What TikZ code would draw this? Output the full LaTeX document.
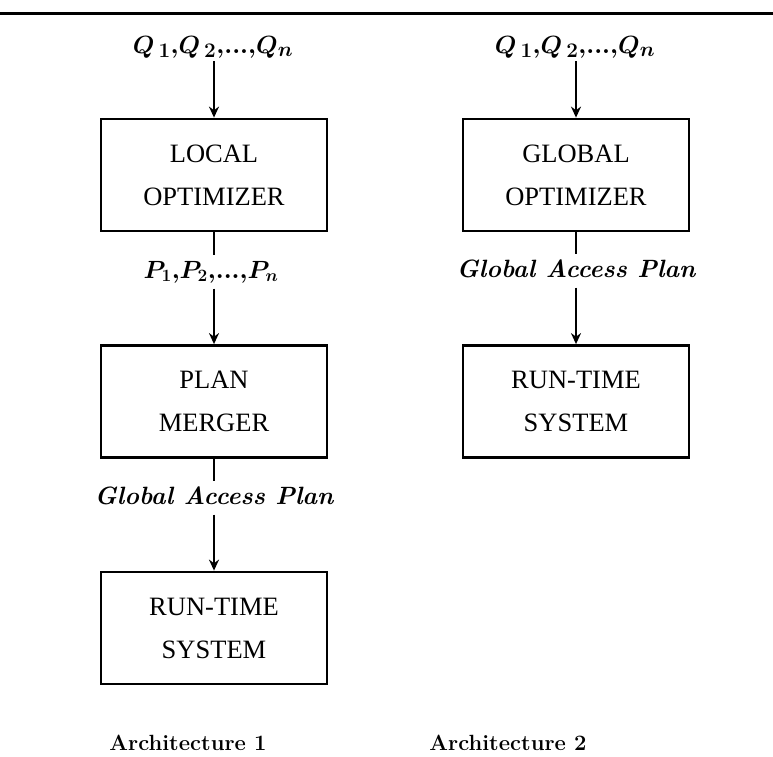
\documentclass[tikz,border=0pt]{standalone}
\usepackage{fontspec}
\newfontfamily\boxfont{Liberation Serif}
\usetikzlibrary{arrows.meta}
\begin{document}
\begin{tikzpicture}[x=1pt,y=-1pt,
  procbox/.style={draw, line width=2.8pt, minimum width=226pt, minimum height=112pt,
    align=center, font=\boxfont\fontsize{26.5}{43}\selectfont},
  flowlabel/.style={inner xsep=2pt, inner ysep=4.5pt, text height=18pt, text depth=6pt},
  qlabel/.style={inner xsep=2pt, inner ysep=2pt, text height=18pt, text depth=6pt, font=\boldmath\fontsize{28}{32}\selectfont},
  plainline/.style={line width=2pt},
  flowarrow/.style={line width=2pt, -{Stealth[length=11pt,width=10pt]}},
  caption/.style={font=\bfseries\fontsize{22}{26}\selectfont},
  gap/.style={font=\bfseries\itshape\fontsize{25}{30}\selectfont}
]
\useasboundingbox (0,0) rectangle (773,756);
\draw[line width=3pt] (0,13) -- (773,13);

% Architecture 1
\node[qlabel] (q1) at (213,47) {$Q_{\,1}{,}Q_{\,2}{,}{\ldotp}{\ldotp}{\ldotp}{,}Q_n$};
\node[procbox] (lo) at (214,175) {LOCAL\\OPTIMIZER};
\node[flowlabel, font=\boldmath\fontsize{27}{30}\selectfont] (pl) at (211,272) {$P_1{,}P_2{,}{\ldotp}{\ldotp}{\ldotp}{,}P_n$};
\node[procbox] (pm) at (214,401.5) {PLAN\\MERGER};
\node[flowlabel, gap] (gap1) at (214,498) {Global Access Plan};
\node[procbox] (rt1) at (214,628) {RUN-TIME\\SYSTEM};
\node[caption] (c1) at (188,743) {Architecture 1};

\draw[flowarrow] (lo.north |- q1.south) -- (lo.north);
\draw[plainline] (lo.south) -- (lo.south |- pl.north);
\draw[flowarrow] (pm.north |- pl.south) -- (pm.north);
\draw[plainline] (pm.south) -- (pm.south |- gap1.north);
\draw[flowarrow] (rt1.north |- gap1.south) -- (rt1.north);

% Architecture 2
\node[qlabel] (q2) at (575,47) {$Q_{\,1}{,}Q_{\,2}{,}{\ldotp}{\ldotp}{\ldotp}{,}Q_n$};
\node[procbox] (go) at (576,175) {GLOBAL\\OPTIMIZER};
\node[flowlabel, gap] (gap2) at (576,271) {Global Access Plan};
\node[procbox] (rt2) at (576,401.5) {RUN-TIME\\SYSTEM};
\node[caption] (c2) at (508,743) {Architecture 2};

\draw[flowarrow] (go.north |- q2.south) -- (go.north);
\draw[plainline] (go.south) -- (go.south |- gap2.north);
\draw[flowarrow] (rt2.north |- gap2.south) -- (rt2.north);
\end{tikzpicture}
\end{document}
